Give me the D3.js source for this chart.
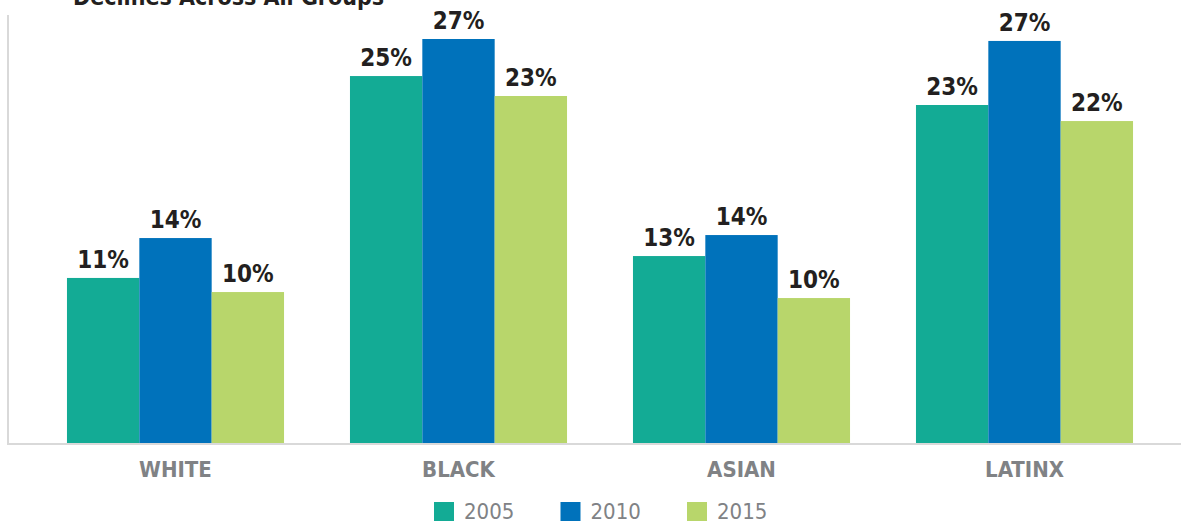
<!DOCTYPE html>
<html lang="en">
<head>
	<meta charset="utf-8">
	<title>Declines Across All Groups</title>
	<script type="text/javascript" src="https://d3js.org/d3.v7.min.js" charset="utf-8"></script>
	<style>
		body { margin: 0; background: #ffffff; }
		svg { display: block; }
		text { font-family: "DejaVu Sans Condensed", "Liberation Sans Narrow", "Roboto", sans-serif; }
	</style>
</head>
<body>
	<div id="chart">
		<script type="text/javascript">

			// Data
			var groups = ["WHITE", "BLACK", "ASIAN", "LATINX"];
			var years = ["2005", "2010", "2015"];
			var values2005 = [11.07, 24.53, 12.53, 22.6];
			var values2010 = [13.73, 27.0, 13.93, 26.87];
			var values2015 = [10.13, 23.2, 9.73, 21.53];
			var colors = ["#13ab95", "#0072bb", "#b8d66b"];
			var title = "Declines Across All Groups";

			var series = [values2005, values2010, values2015];

			// Size of the page
			var width = 1181;
			var height = 521;
			var axis_left = 8;
			var baseline = 444;

			var svg = d3.select("#chart")
						.append("svg")
						.attr("width", width)
						.attr("height", height);

			// Scales: groups along x, years inside each group
			var x0 = d3.scaleBand()
						.domain(groups)
						.range([34, 1166])
						.paddingInner(0.233)
						.paddingOuter(0.1165);

			var x1 = d3.scaleBand()
						.domain(years)
						.range([0, x0.bandwidth()]);

			var yScale = d3.scaleLinear()
						.domain([0, 30])
						.range([baseline, baseline - 450]);

			var colorScale = d3.scaleOrdinal()
						.domain(years)
						.range(colors);

			// Title, cut off at the top
			svg.append("text")
				.attr("x", 73)
				.attr("y", 5)
				.attr("font-size", 23)
				.attr("font-weight", "bold")
				.attr("fill", "#231f20")
				.text(title);

			// One entry per bar
			var bars = [];
			groups.forEach(function(g, i){
				years.forEach(function(yr, j){
					bars.push({group: g, year: yr, value: series[j][i]});
				});
			});

			svg.selectAll("rect.bar")
				.data(bars)
				.enter()
					.append("rect")
					.attr("class", "bar")
					.attr("x", function(d){ return x0(d.group) + x1(d.year); })
					.attr("y", function(d){ return yScale(d.value); })
					.attr("width", x1.bandwidth())
					.attr("height", function(d){ return baseline - yScale(d.value); })
					.attr("fill", function(d){ return colorScale(d.year); });

			// Value labels
			var fmt = d3.format(".0f");
			svg.selectAll("text.value")
				.data(bars)
				.enter()
					.append("text")
					.attr("class", "value")
					.attr("x", function(d){ return x0(d.group) + x1(d.year) + x1.bandwidth() / 2; })
					.attr("y", function(d){ return yScale(d.value) - 10; })
					.attr("text-anchor", "middle")
					.attr("font-size", 24)
					.attr("font-weight", "bold")
					.attr("fill", "#231f20")
					.text(function(d){ return fmt(d.value) + "%"; });

			// Axis lines
			svg.append("line")
				.attr("x1", axis_left).attr("x2", axis_left)
				.attr("y1", 15).attr("y2", baseline + 1)
				.attr("stroke", "#d9d9d9")
				.attr("stroke-width", 2);

			var xAxis = d3.axisBottom(x0).tickSize(0).tickPadding(17);
			var gx = svg.append("g")
				.attr("transform", "translate(0," + baseline + ")")
				.call(xAxis);
			gx.select(".domain")
				.attr("d", "M" + axis_left + ",0H" + width)
				.attr("stroke", "#d9d9d9")
				.attr("stroke-width", 2);
			gx.selectAll(".tick text")
				.attr("font-family", null)
				.attr("font-size", 22)
				.attr("font-weight", "bold")
				.attr("fill", "#808285");

			// Legend
			var legend = svg.selectAll("g.legend")
				.data(years)
				.enter()
					.append("g")
					.attr("class", "legend")
					.attr("transform", function(d, i){ return "translate(" + (434 + i * 126.5) + ",502)"; });

			legend.append("rect")
				.attr("width", 20)
				.attr("height", 19)
				.attr("fill", function(d){ return colorScale(d); });

			legend.append("text")
				.attr("x", 30)
				.attr("y", 17)
				.attr("font-size", 22)
				.attr("fill", "#808285")
				.text(function(d){ return d; });

		</script>
	</div>
</body>
</html>
